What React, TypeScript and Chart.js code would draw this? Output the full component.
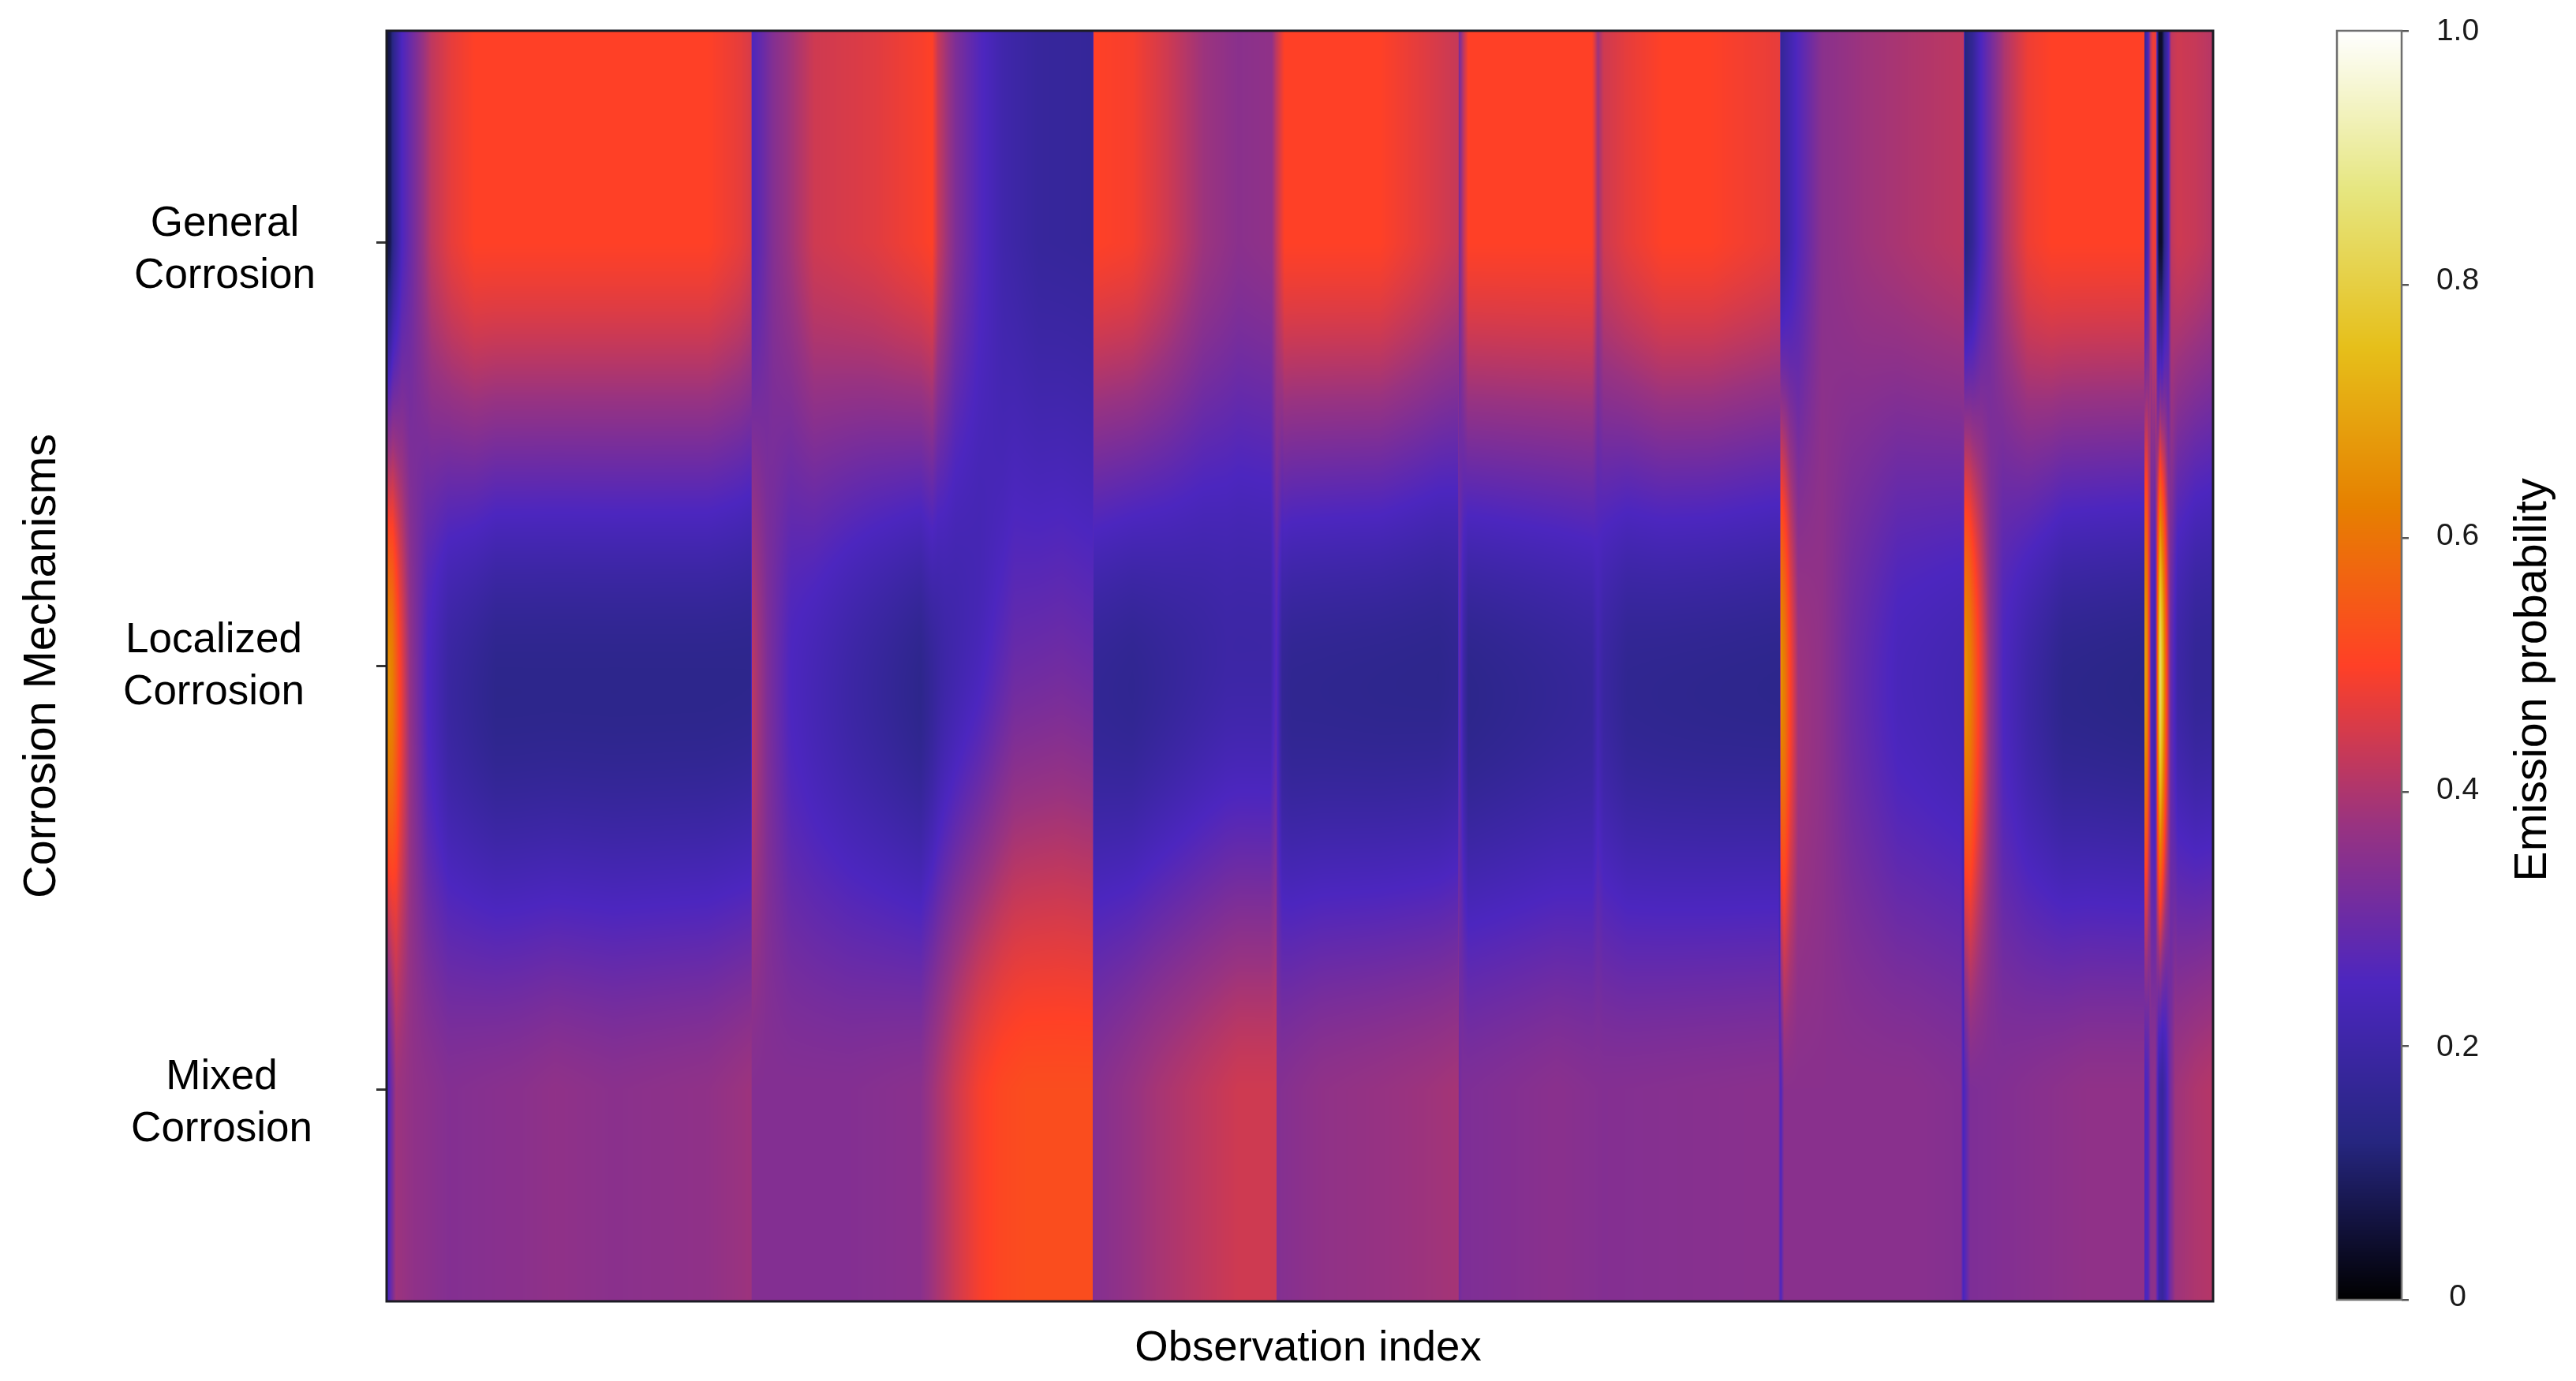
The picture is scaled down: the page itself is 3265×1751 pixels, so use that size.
import React, { useEffect, useRef } from "react";
import { Chart, registerables } from "chart.js";

Chart.register(...registerables);

// ---------- data ----------
const rowLabels = [["General", "Corrosion"], ["Localized", "Corrosion"], ["Mixed", "Corrosion"]];
const xTitle = "Observation index";
const yTitle = "Corrosion Mechanisms";
const barTitle = "Emission probability";
const barTicks = [0, 0.2, 0.4, 0.6, 0.8, 1.0];
const barTickLabels = ["0", "0.2", "0.4", "0.6", "0.8", "1.0"];
const obsMax = 1550;

const generalObs = [0,3,6,13,25,38,55,75,273,300,309.5,310,328,363,413,453,463,468,483,503,523,553,599.5,600,633,663,693,723,751,755,762,843,873,909.5,910,914,918,1023,1025,1028,1033,1053,1083,1123,1182.5,1183,1198,1218,1253,1293,1338.5,1339,1346,1353,1373,1393,1413,1491.5,1492,1495,1497,1499,1501.5,1502.5,1504,1506.5,1509,1512,1514.5,1520,1535,1550];
const generalVal = [.06,.08,.15,.25,.33,.42,.47,.5,.5,.47,.45,.25,.34,.44,.46,.49,.5,.43,.33,.26,.21,.18,.175,.5,.49,.44,.38,.35,.36,.42,.5,.5,.47,.43,.31,.42,.5,.5,.46,.38,.44,.47,.5,.5,.47,.17,.26,.35,.38,.4,.42,.12,.17,.25,.4,.48,.5,.5,.17,.24,.42,.48,.47,.2,.04,.04,.15,.23,.42,.44,.43,.41];

const localizedObs = [0,5,11,20,35,53,93,309.5,310,323,343,393,453,473,503,533,573,599.5,600,633,673,713,750,755,760,768,893,909,910,914,918,1023,1028,1033,1053,1182.5,1183,1187,1191,1198,1218,1243,1283,1338.5,1339,1344,1351,1361,1372,1393,1423,1491.5,1492,1494,1496.5,1497.5,1501,1503,1505,1507.5,1510,1512,1514,1520,1535,1550];
const localizedVal = [.66,.62,.5,.36,.25,.19,.15,.15,.42,.33,.25,.2,.15,.2,.24,.3,.31,.3,.17,.16,.18,.2,.2,.27,.17,.16,.15,.16,.3,.2,.15,.18,.22,.19,.16,.15,.66,.6,.5,.38,.36,.3,.24,.22,.66,.62,.5,.35,.25,.2,.15,.14,.68,.66,.4,.24,.2,.6,.85,.72,.55,.42,.3,.2,.17,.17];

const mixedObs = [0,3,8,23,53,113,143,193,273,309.5,310,393,453,463,483,503,523,543,599,599.5,623,653,693,723,755,755.5,793,843,883,909.5,910,913,993,1033,1181,1183,1186,1293,1336,1338,1340,1344,1443,1491.5,1492,1495,1497,1501,1504,1507,1510,1513,1518,1535,1550];
const mixedVal = [.23,.28,.38,.36,.34,.35,.36,.35,.36,.38,.34,.34,.35,.38,.44,.49,.515,.525,.525,.34,.36,.39,.42,.44,.44,.34,.36,.37,.38,.39,.31,.33,.35,.34,.35,.25,.35,.35,.34,.24,.27,.33,.36,.36,.24,.26,.35,.36,.2,.18,.22,.3,.38,.4,.41];

const colormapPos = [0, .125, .25, .375, .5, .625, .75, .875, 1];
const colormapR = [0, 38, 76, 153, 255, 230, 230, 230, 255];
const colormapG = [0, 38, 38, 51, 64, 128, 191, 230, 255];
const colormapB = [0, 128, 191, 128, 38, 0, 26, 128, 255];

// ---------- layout ----------
const W = 3265, H = 1751;
const PLOT = { l: 490, t: 39, r: 2805, b: 1650 };
const BAR = { canvasLeft: 2930, l: 2962, r: 3044, t: 39, b: 1648 };
const FONT = "'Liberation Sans', Arial, sans-serif";
const rowLabelCenterX = [285, 271, 281];
const rowLabelDy = [10, 1, 18];
const barLabelDy = [-3, 2, -2, -2, -5, 1];

// ---------- helpers ----------
function makeLut(n: number) {
  const lut = new Uint8ClampedArray(n * 3);
  for (let i = 0; i < n; i++) {
    const v = i / (n - 1);
    let k = 0;
    while (k < colormapPos.length - 2 && v > colormapPos[k + 1]) k++;
    const t = (v - colormapPos[k]) / (colormapPos[k + 1] - colormapPos[k]);
    lut[i * 3] = colormapR[k] + (colormapR[k + 1] - colormapR[k]) * t;
    lut[i * 3 + 1] = colormapG[k] + (colormapG[k + 1] - colormapG[k]) * t;
    lut[i * 3 + 2] = colormapB[k] + (colormapB[k + 1] - colormapB[k]) * t;
  }
  return lut;
}
const LUT_N = 2048;
const lut = makeLut(LUT_N);

function sampleRow(points: { x: number; v: number }[], x: number, hint: { i: number }) {
  while (hint.i < points.length - 2 && x > points[hint.i + 1].x) hint.i++;
  const a = points[hint.i], b = points[hint.i + 1];
  const t = Math.max(0, Math.min(1, (x - a.x) / (b.x - a.x)));
  return a.v + (b.v - a.v) * t;
}

function shadeBetweenRows(p0: number, p1: number, p2: number, p3: number, t: number) {
  return 0.5 * (2 * p1 + (p2 - p0) * t + (2 * p0 - 5 * p1 + 4 * p2 - p3) * t * t + (3 * p1 - p0 - 3 * p2 + p3) * t * t * t);
}

const heatmapPlugin = {
  id: "heatmap",
  beforeDraw(chart: any) {
    const items = chart.scales.y.getLabelItems(chart.chartArea);
    items.forEach((it: any, i: number) => {
      it.options.textAlign = "center";
      it.options.translation = [rowLabelCenterX[i], it.options.translation[1] + rowLabelDy[i]];
    });
  },
  beforeDatasetsDraw(chart: any) {
    const { ctx, chartArea: a, scales } = chart;
    const w = Math.round(a.right - a.left), h = Math.round(a.bottom - a.top);
    const img = ctx.createImageData(w, h);
    const rows = chart.data.datasets.map((d: any) => d.data);
    const hints = rows.map(() => ({ i: 0 }));
    const pix = [0, 1, 2].map((r) => scales.y.getPixelForValue(r));
    const col = new Float32Array(3);
    for (let px = 0; px < w; px++) {
      const obs = scales.x.getValueForPixel(a.left + px + 0.5);
      for (let r = 0; r < 3; r++) col[r] = sampleRow(rows[r], obs, hints[r]);
      for (let py = 0; py < h; py++) {
        const y = a.top + py + 0.5;
        let v: number;
        if (y <= pix[0]) v = col[0];
        else if (y >= pix[2]) v = col[2];
        else if (y < pix[1]) v = shadeBetweenRows(col[0], col[0], col[1], col[2], (y - pix[0]) / (pix[1] - pix[0]));
        else v = shadeBetweenRows(col[0], col[1], col[2], col[2], (y - pix[1]) / (pix[2] - pix[1]));
        const k = Math.max(0, Math.min(LUT_N - 1, Math.round(v * (LUT_N - 1))));
        const o = (py * w + px) * 4;
        img.data[o] = lut[k * 3];
        img.data[o + 1] = lut[k * 3 + 1];
        img.data[o + 2] = lut[k * 3 + 2];
        img.data[o + 3] = 255;
      }
    }
    ctx.putImageData(img, Math.round(a.left), Math.round(a.top));
  },
  afterDraw(chart: any) {
    const { ctx, chartArea: a } = chart;
    ctx.save();
    ctx.strokeStyle = "#1c1c24";
    ctx.lineWidth = 3;
    ctx.strokeRect(a.left, a.top, a.right - a.left, a.bottom - a.top);
    ctx.font = `54.5px ${FONT}`;
    ctx.fillStyle = "#000";
    ctx.textAlign = "center";
    ctx.textBaseline = "middle";
    ctx.fillText(xTitle, 1658, 1710);
    ctx.restore();
  },
};

const colorbarPlugin = {
  id: "colorbar",
  beforeDraw(chart: any) {
    const items = chart.scales.y.getLabelItems(chart.chartArea);
    items.forEach((it: any, i: number) => {
      it.options.textAlign = "center";
      it.options.translation = [3115 - BAR.canvasLeft, it.options.translation[1] + barLabelDy[i]];
    });
  },
  beforeDatasetsDraw(chart: any) {
    const { ctx, chartArea: a, scales } = chart;
    for (let y = Math.floor(a.top); y < a.bottom; y++) {
      const v = Math.max(0, Math.min(1, scales.y.getValueForPixel(y + 0.5)));
      const k = Math.round(v * (LUT_N - 1));
      ctx.fillStyle = `rgb(${lut[k * 3]},${lut[k * 3 + 1]},${lut[k * 3 + 2]})`;
      ctx.fillRect(a.left, y, a.right - a.left, 1);
    }
  },
  afterDraw(chart: any) {
    const { ctx, chartArea: a } = chart;
    ctx.save();
    ctx.strokeStyle = "#6e6e6e";
    ctx.lineWidth = 2.5;
    ctx.strokeRect(a.left, a.top, a.right - a.left, a.bottom - a.top);
    ctx.translate(3211 - BAR.canvasLeft, 862);
    ctx.rotate(-Math.PI / 2);
    ctx.font = `57.5px ${FONT}`;
    ctx.fillStyle = "#000";
    ctx.textAlign = "center";
    ctx.textBaseline = "middle";
    ctx.fillText(barTitle, 0, 0);
    ctx.restore();
  },
};

function series(obs: number[], vals: number[], row: number) {
  return obs.map((x, i) => ({ x, y: row, v: vals[i] }));
}

export default function App() {
  const mainRef = useRef<HTMLCanvasElement>(null);
  const barRef = useRef<HTMLCanvasElement>(null);

  useEffect(() => {
    document.body.style.margin = "0";
    const main = new Chart(mainRef.current as HTMLCanvasElement, {
      type: "scatter",
      data: {
        datasets: [
          { label: "General Corrosion", data: series(generalObs, generalVal, 0), pointRadius: 0 },
          { label: "Localized Corrosion", data: series(localizedObs, localizedVal, 1), pointRadius: 0 },
          { label: "Mixed Corrosion", data: series(mixedObs, mixedVal, 2), pointRadius: 0 },
        ],
      },
      options: {
        responsive: false,
        animation: false,
        devicePixelRatio: 1,
        normalized: true,
        parsing: false,
        layout: { padding: { left: 0, top: PLOT.t, right: BAR.canvasLeft - PLOT.r, bottom: 0 } },
        plugins: { legend: { display: false }, tooltip: { enabled: false } },
        scales: {
          x: {
            type: "linear",
            min: 0,
            max: obsMax,
            grid: { display: false },
            border: { display: false },
            ticks: { display: false },
            afterFit(s: any) { s.height = H - PLOT.b; s.paddingLeft = 0; s.paddingRight = 0; },
          },
          y: {
            type: "linear",
            reverse: true,
            min: -0.5,
            max: 2.5,
            afterBuildTicks(s: any) { s.ticks = [0, 1, 2].map((value) => ({ value })); },
            grid: { drawOnChartArea: false, drawTicks: true, tickLength: 13, color: "#333", lineWidth: 3 },
            border: { display: false },
            ticks: {
              color: "#000",
              autoSkip: false,
              maxRotation: 0,
              crossAlign: "center",
              font: { family: FONT, size: 53, lineHeight: 1.245 },
              callback: (v: any) => rowLabels[v],
            },
            title: { display: true, text: yTitle, color: "#000", font: { family: FONT, size: 57.6 }, padding: { top: 20, bottom: 0 } },
            afterFit(s: any) { s.width = PLOT.l; s.paddingTop = 0; s.paddingBottom = 0; },
          },
        },
      },
      plugins: [heatmapPlugin],
    } as any);

    const bar = new Chart(barRef.current as HTMLCanvasElement, {
      type: "scatter",
      data: { datasets: [{ label: barTitle, data: barTicks.map((y) => ({ x: 0, y })), pointRadius: 0 }] },
      options: {
        responsive: false,
        animation: false,
        devicePixelRatio: 1,
        layout: { padding: { left: BAR.l - BAR.canvasLeft, top: BAR.t, right: 0, bottom: H - BAR.b } },
        plugins: { legend: { display: false }, tooltip: { enabled: false } },
        scales: {
          x: { type: "linear", display: false, min: 0, max: 1 },
          y: {
            type: "linear",
            position: "right",
            min: 0,
            max: 1,
            afterBuildTicks(s: any) { s.ticks = barTicks.map((value) => ({ value })); },
            grid: { drawOnChartArea: false, drawTicks: true, tickLength: 9, color: "#555", lineWidth: 2.5 },
            border: { display: false },
            ticks: {
              color: "#1a1a1a",
              crossAlign: "center",
              font: { family: FONT, size: 39 },
              callback: (_v: any, i: number) => barTickLabels[i],
            },
            afterFit(s: any) { s.width = W - BAR.r; s.paddingTop = 0; s.paddingBottom = 0; },
          },
        },
      },
      plugins: [colorbarPlugin],
    } as any);

    return () => {
      main.destroy();
      bar.destroy();
    };
  }, []);

  return (
    <div style={{ position: "absolute", left: 0, top: 0, width: W, height: H, overflow: "hidden", background: "#fff" }}>
      <canvas ref={mainRef} width={BAR.canvasLeft} height={H} style={{ position: "absolute", left: 0, top: 0, display: "block" }} />
      <canvas ref={barRef} width={W - BAR.canvasLeft} height={H} style={{ position: "absolute", left: BAR.canvasLeft, top: 0, display: "block" }} />
    </div>
  );
}
